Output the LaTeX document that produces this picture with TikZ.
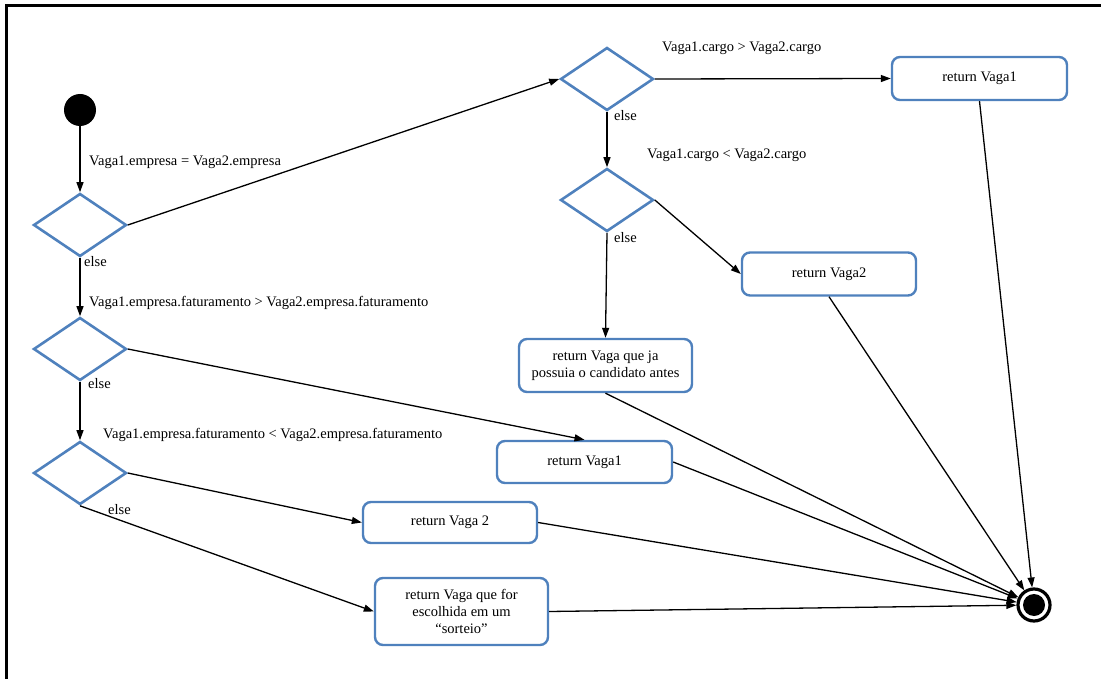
\documentclass[tikz,border=0pt]{standalone}
\usepackage{fontspec}
\setmainfont{Liberation Serif}
\usetikzlibrary{shapes.geometric,arrows.meta}
\definecolor{umlblue}{RGB}{79,129,189}
\begin{document}
\begin{tikzpicture}[x=1pt,y=-1pt,
  every node/.style={font=\fontsize{14.5}{17}\selectfont},
  decision/.style={diamond,draw=umlblue,line width=2.6pt,inner sep=0pt,
    minimum width=93pt,minimum height=63pt},
  action/.style={rectangle,rounded corners=8pt,draw=umlblue,line width=2.4pt,
    fill=white,align=center,inner sep=0pt},
  guard/.style={anchor=west,inner sep=0pt},
  flow/.style={line width=1.3pt,-{Triangle[length=10pt,width=7pt]}}]
\useasboundingbox (0,0) rectangle (1101,679);
% frame
\draw[line width=3pt] (6,679) -- (6,6) -- (1101,6);

% initial and final states
\node[circle,fill=black,minimum size=32pt,inner sep=0pt] (start) at (80,110) {};
\node[circle,draw=black,line width=3.2pt,fill=white,minimum size=32pt,inner sep=0pt] (end) at (1034,605) {};
\fill (end.center) circle (11pt);

% decisions
\node[decision] (d1) at (80,225) {};
\node[decision] (d2) at (80,349) {};
\node[decision] (d3) at (80,473) {};
\node[decision] (c1) at (607,79) {};
\node[decision] (c2) at (607,200) {};

% actions
\node[action,minimum width=175pt,minimum height=43pt] (r1) at (979.5,78.5) {return Vaga1};
\node[action,minimum width=174pt,minimum height=43pt] (r2) at (829,274) {return Vaga2};
\node[action,minimum width=173pt,minimum height=53pt] (r3) at (605.5,365.5) {return Vaga que ja\\possuia o candidato antes};
\node[action,minimum width=175pt,minimum height=42pt] (r4) at (584.5,462) {return Vaga1};
\node[action,minimum width=174pt,minimum height=41pt] (r5) at (450,522.5) {return Vaga 2};
\node[action,minimum width=173pt,minimum height=67pt] (r6) at (461.5,611.5) {return Vaga que for\\escolhida em um\\“sorteio”};

% guards
\node[guard] (g1) at (89,162) {Vaga1.empresa = Vaga2.empresa};
\node[guard] (g2) at (89,303) {Vaga1.empresa.faturamento > Vaga2.empresa.faturamento};
\node[guard] (g3) at (103,435) {Vaga1.empresa.faturamento < Vaga2.empresa.faturamento};
\node[guard] (g4) at (662,48) {Vaga1.cargo > Vaga2.cargo};
\node[guard] (g5) at (647,155) {Vaga1.cargo < Vaga2.cargo};
\node[guard] (e1) at (84,262) {else};
\node[guard] (e2) at (88,384) {else};
\node[guard] (e3) at (108,510) {else};
\node[guard] (e4) at (614,116) {else};
\node[guard] (e5) at (614,238) {else};

% control flow
\draw[flow] (start) -- (d1.north);
\draw[flow] (d1.east) -- (c1.west);
\draw[flow] (c1.east) -- (r1.west);
\draw[flow] (c1.south) -- (c2.north);
\draw[flow] (c2.east) -- (r2.west);
\draw[flow] (c2.south) -- (r3.north);
\draw[flow] (d1.south) -- (d2.north);
\draw[flow] (d2.east) -- (r4.north);
\draw[flow] (d2.south) -- (d3.north);
\draw[flow] (d3.east) -- (r5.west);
\draw[flow] (d3.south) -- (r6.west);

% into the final state
\draw[flow] (r1.south) -- (end);
\draw[flow] (r2.south) -- (end);
\draw[flow] (r3.south) -- (end);
\draw[flow] (r4.east) -- (end);
\draw[flow] (r5.east) -- (end);
\draw[flow] (r6.east) -- (end);
\end{tikzpicture}
\end{document}
